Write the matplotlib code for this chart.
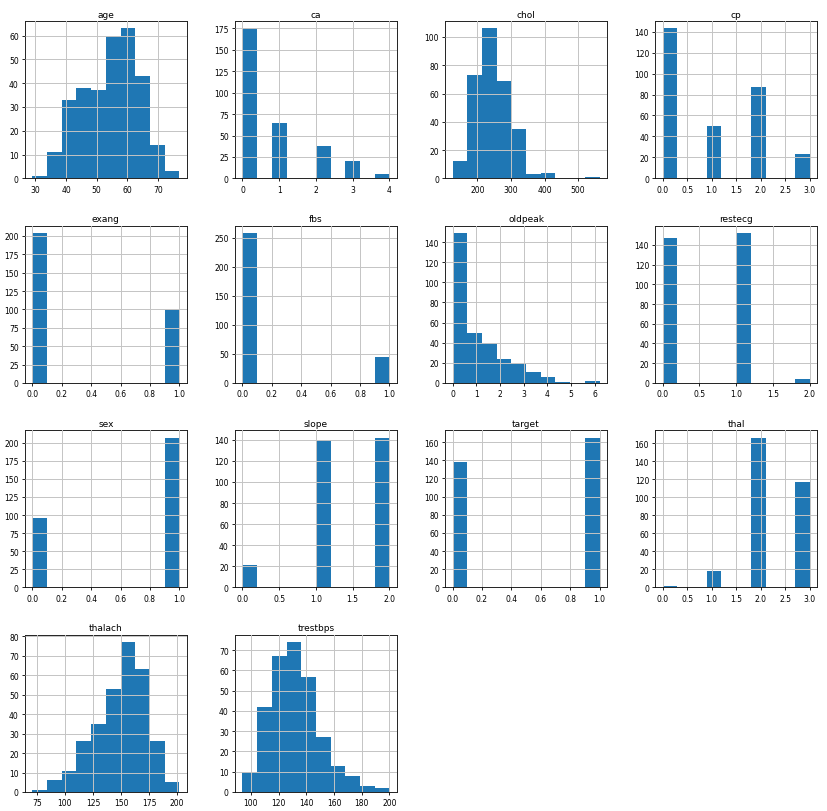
import numpy as np
import matplotlib
matplotlib.use("Agg")
import matplotlib.pyplot as plt

columns = ["age", "ca", "chol", "cp", "exang", "fbs", "oldpeak", "restecg",
           "sex", "slope", "target", "thal", "thalach", "trestbps"]

# (min, max) of each column -> 10 equal-width bins
ranges = {
    "age": (29, 77), "ca": (0, 4), "chol": (126, 564), "cp": (0, 3),
    "exang": (0, 1), "fbs": (0, 1), "oldpeak": (0, 6.2), "restecg": (0, 2),
    "sex": (0, 1), "slope": (0, 2), "target": (0, 1), "thal": (0, 3),
    "thalach": (71, 202), "trestbps": (94, 200),
}

age_counts = [1, 11, 33, 38, 37, 60, 63, 43, 14, 3]
ca_counts = [175, 0, 65, 0, 0, 38, 0, 20, 0, 5]
chol_counts = [12, 73, 106, 69, 35, 3, 4, 0, 0, 1]
cp_counts = [143, 0, 0, 50, 0, 0, 87, 0, 0, 23]
exang_counts = [204, 0, 0, 0, 0, 0, 0, 0, 0, 99]
fbs_counts = [258, 0, 0, 0, 0, 0, 0, 0, 0, 45]
oldpeak_counts = [149, 50, 40, 24, 19, 11, 6, 1, 0, 2]
restecg_counts = [147, 0, 0, 0, 0, 152, 0, 0, 0, 4]
sex_counts = [96, 0, 0, 0, 0, 0, 0, 0, 0, 207]
slope_counts = [21, 0, 0, 0, 0, 140, 0, 0, 0, 142]
target_counts = [138, 0, 0, 0, 0, 0, 0, 0, 0, 165]
thal_counts = [2, 0, 0, 18, 0, 0, 166, 0, 0, 117]
thalach_counts = [1, 6, 11, 26, 35, 53, 77, 63, 26, 5]
trestbps_counts = [10, 42, 67, 74, 57, 27, 13, 8, 3, 2]

counts = {
    "age": age_counts, "ca": ca_counts, "chol": chol_counts, "cp": cp_counts,
    "exang": exang_counts, "fbs": fbs_counts, "oldpeak": oldpeak_counts,
    "restecg": restecg_counts, "sex": sex_counts, "slope": slope_counts,
    "target": target_counts, "thal": thal_counts, "thalach": thalach_counts,
    "trestbps": trestbps_counts,
}

W, H = 827, 812
fig, axes = plt.subplots(4, 4, figsize=(W / 100, H / 100), dpi=100)
fig.subplots_adjust(left=25 / W, right=817 / W, top=1 - 22 / H,
                    bottom=1 - 793 / H, wspace=0.3, hspace=0.3)

flat = axes.ravel()
for ax, col in zip(flat, columns):
    lo, hi = ranges[col]
    edges = np.linspace(lo, hi, 11)
    centers = (edges[:-1] + edges[1:]) / 2
    ax.hist(centers, bins=edges, weights=counts[col], color="#1f77b4")
    ax.grid(True, color="#c4c4c4", linewidth=0.7)
    ax.set_axisbelow(False)
    ax.set_title(col, fontsize=6.5, pad=3)
    ax.tick_params(labelsize=5.5, length=2.5, width=0.6, pad=2)
    for s in ax.spines.values():
        s.set_linewidth(0.7)
        s.set_color("#222222")

for ax in flat[len(columns):]:
    ax.set_visible(False)

fig.savefig("out.png", dpi=100, facecolor="white")
